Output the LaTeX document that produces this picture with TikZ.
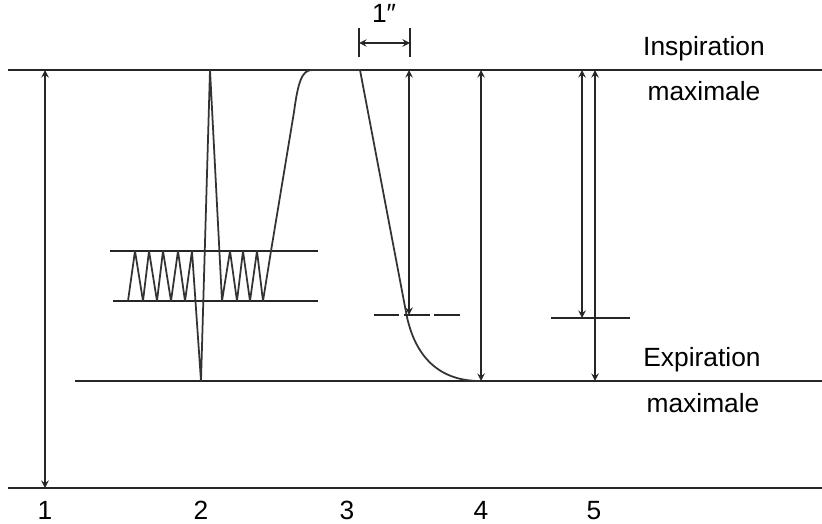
\documentclass[tikz,border=0pt]{standalone}
\usepackage{fontspec}
\setmainfont{Liberation Sans}
\begin{document}
\begin{tikzpicture}[x={(0.02cm,0)}, y={(0,-0.02cm)}, >=stealth,
	font=\fontsize{15}{18}\selectfont,
	niveau/.style={line width=1.1pt, black!85},
	trace/.style={line width=1pt, black!80, line join=round},
	fleche/.style={<->, line width=0.9pt, black!85}]
	\useasboundingbox (0,0) rectangle (822,524);
	% Niveaux de référence
	\coordinate (Ig) at (8,70);    \coordinate (Id) at (822,70);
	\coordinate (Eg) at (75,381);  \coordinate (Ed) at (822,381);
	\coordinate (Bg) at (8,488);   \coordinate (Bd) at (822,488);
	\draw[niveau] (Ig) -- (Id);
	\draw[niveau] (Eg) -- (Ed);
	\draw[niveau] (Bg) -- (Bd);
	% Volume courant
	\draw[niveau] (110,251) -- (318,251);
	\draw[niveau] (113,301) -- (318,301);
	% Tracé du spirogramme
	\draw[trace] (128,301) -- (135,251) -- (143,301) -- (149,251) -- (157,301)
		-- (163,251) -- (171,301) -- (178,251) -- (185,301) -- (192,251)
		-- (201,381) -- (210,70) -- (222,301) -- (230,251) -- (237,301)
		-- (243,251) -- (250,301) -- (257,251) -- (263,301) -- (271,251)
		-- (294,112) .. controls (298,82) and (302,70) .. (312,70) -- (360,70)
		-- (406,312) .. controls (412,345) and (430,381) .. (480,381);
	% Seuil à 1 seconde
	\draw[niveau, dash pattern=on 14.5pt off 2.6pt] (374,315) -- (460,315);
	\draw[niveau] (551,318) -- (630,318);
	% Flèches des volumes
	\draw[fleche] (45,70) -- (45,488);
	\draw[fleche] (409,70) -- (409,315);
	\draw[fleche] (481,70) -- (481,381);
	\draw[fleche] (582,70) -- (582,318);
	\draw[fleche] (595,70) -- (595,381);
	% Durée 1''
	\coordinate (T1) at (359,43);
	\coordinate (T2) at (410,43);
	\draw[niveau, line width=0.9pt] (359,28) -- (359,57);
	\draw[niveau, line width=0.9pt] (410,28) -- (410,57);
	\draw[fleche] (T1) -- (T2);
	\node[anchor=base] at (384,22) {1″};
	% Légendes
	\node[anchor=base] at (704,55) {Inspiration};
	\node[anchor=base] at (704,100) {maximale};
	\node[anchor=base] at (702,366) {Expiration};
	\node[anchor=base] at (703,412) {maximale};
	\foreach \n/\xp in {1/45, 2/201, 3/347, 4/481, 5/594}
		\node[anchor=base] at (\xp,519) {\n};
\end{tikzpicture}
\end{document}
